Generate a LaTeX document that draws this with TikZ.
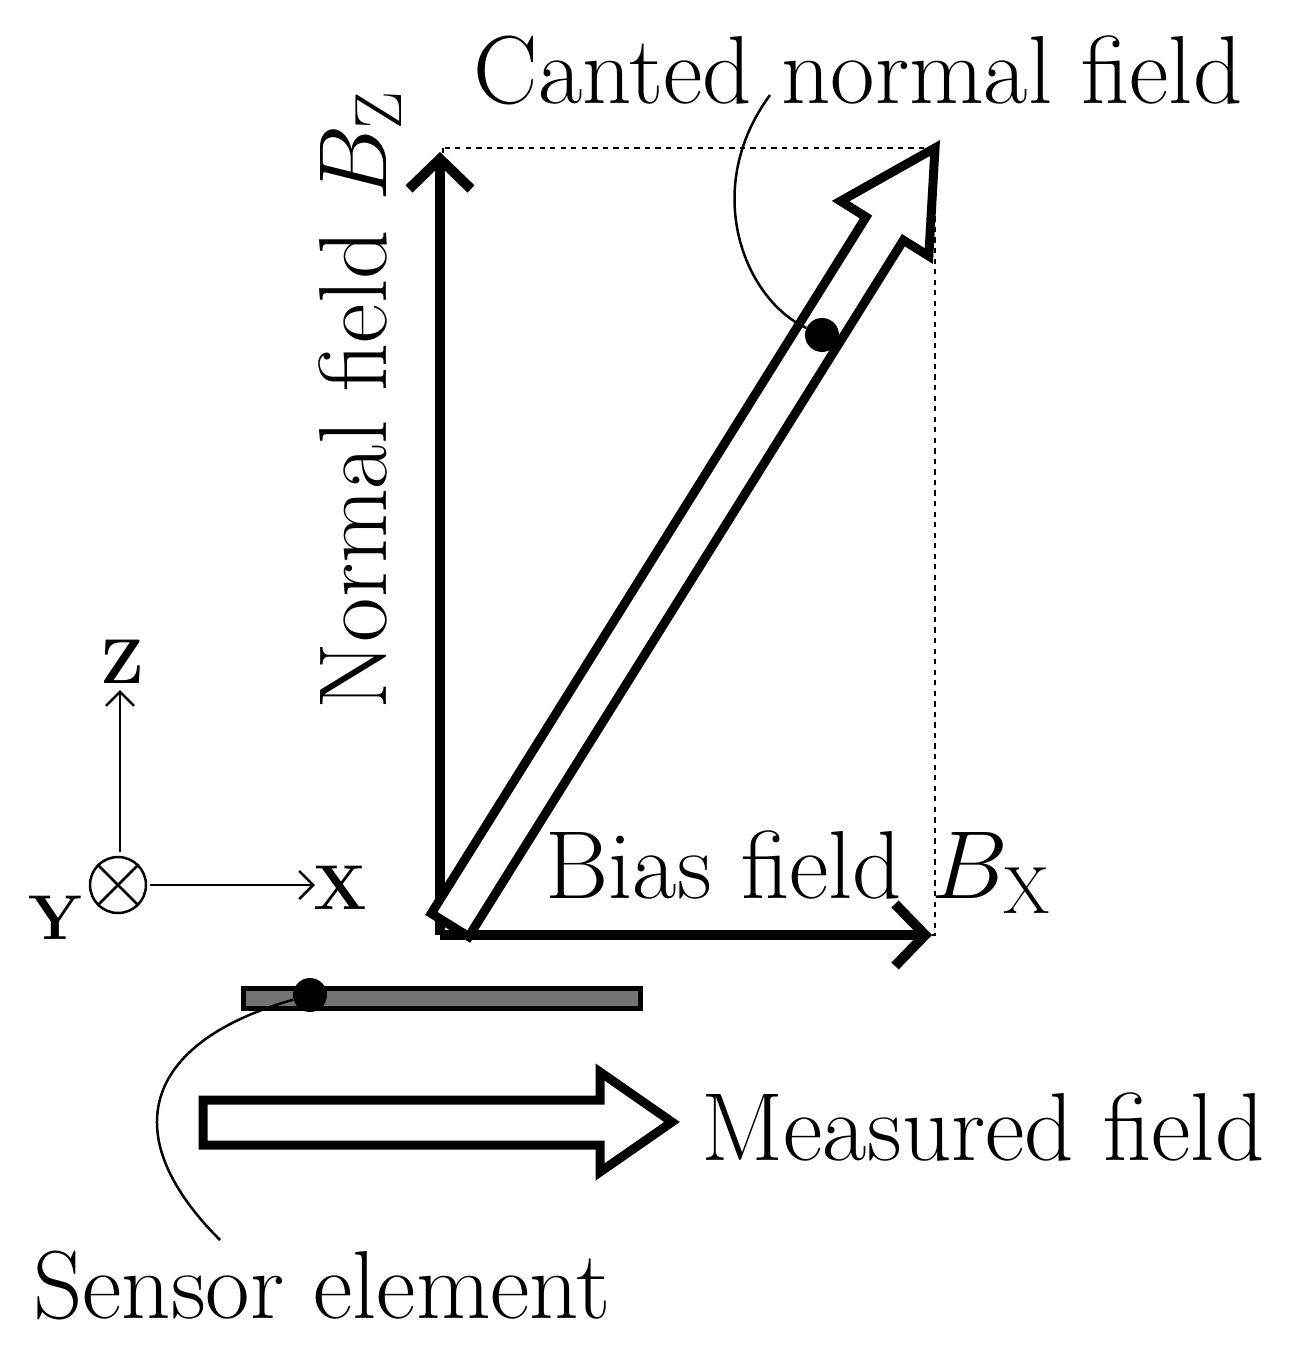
\RequirePackage{fix-cm}
\documentclass[tikz,border=0pt]{standalone}
\usetikzlibrary{arrows.meta}
\DeclareMathSizes{55}{55}{38}{28}
\begin{document}
\begin{tikzpicture}[x=0.02cm,y=-0.02cm,
  big/.style={line width=10*0.02cm,-{Straight Barb[length=30*0.02cm,width=62*0.02cm,line width=10*0.02cm]}},
  thin/.style={line width=2.5*0.02cm},
  lbl/.style={font=\fontsize{55}{64}\selectfont,inner sep=0},
  ax/.style={font=\fontsize{36}{40}\selectfont\bfseries,inner sep=0}]
\useasboundingbox (0,0) rectangle (1302,1364);
\draw[dashed,line width=1.2*0.02cm] (443,148) rectangle (935,935);
\coordinate (o) at (440,935);
\coordinate (zt) at (440,152);
\coordinate (xt) at (932,935);
\draw[big] (o) -- (zt);
\draw[big] (o) -- (xt);
\draw[line width=9*0.02cm,line join=miter,fill=white] (468.7,936.6) -- (903.4,240.2) -- (928.8,256.1) -- (935,148) -- (840.6,201.1) -- (866.0,217.0) -- (431.3,913.4) -- cycle;
\node[circle,fill=black,inner sep=0,minimum size=34*0.02cm] (cd) at (822,335) {};
\node[lbl] (cl) at (858,70) {Canted normal field};
\draw[thin] (cd) .. controls (745,300) and (700,190) .. (770,95);
\node[lbl,rotate=90] (nl) at (360,400) {Normal field $B_{\mathrm Z}$};
\node[lbl] (bl) at (798,872) {Bias field $B_{\mathrm X}$};
% axes
\node[circle,draw,thin,minimum size=56*0.02cm,inner sep=0] (y) at (118,885) {};
\draw[thin] (y.north west) -- (y.south east) (y.north east) -- (y.south west);
\coordinate (zz) at (120,690);
\coordinate (xx) at (315,885);
\draw[thin,-{Straight Barb[length=14*0.02cm,width=28*0.02cm]}] (120,852) -- (zz);
\draw[thin,-{Straight Barb[length=14*0.02cm,width=28*0.02cm]}] (150,885) -- (xx);
\node[ax] (zl) at (122,662) {Z};
\node[ax] (xl) at (340,888) {X};
\node[ax] (yl) at (55,918) {Y};
% sensor
\draw[line width=5*0.02cm,fill=gray!90!black] (243,988) rectangle (640,1008);
\node[circle,fill=black,inner sep=0,minimum size=34*0.02cm] (sd) at (310,995) {};
\draw[thin] (sd) .. controls (150,1040) and (110,1130) .. (220,1240);
\node[lbl] (sl) at (322,1285) {Sensor element};
\draw[line width=9*0.02cm,line join=miter,fill=white] (203,1100) -- (600,1100) -- (600,1072) -- (672,1122) -- (600,1172) -- (600,1145) -- (203,1145) -- cycle;
\node[lbl] (ml) at (983,1127) {Measured field};
\end{tikzpicture}
\end{document}
